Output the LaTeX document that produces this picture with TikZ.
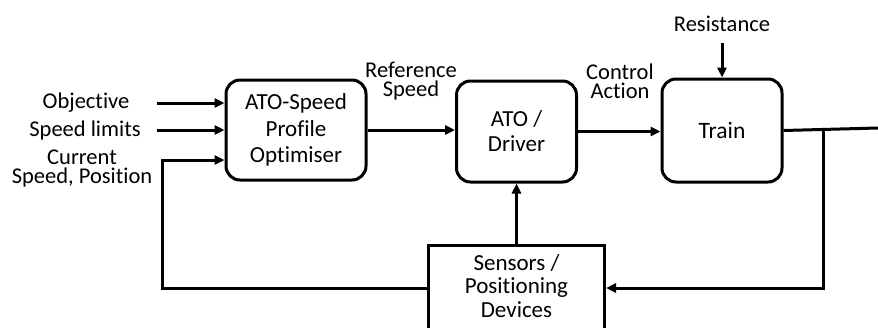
\documentclass[tikz,border=0pt]{standalone}
\usepackage{fontspec}
\setmainfont{Carlito}[Ligatures={NoCommon}]
\usetikzlibrary{arrows.meta,calc}
\begin{document}
\begin{tikzpicture}[x=1pt,y=-1pt,
  line width=3pt,
  rbox/.style={draw, rounded corners=14pt, line width=3pt, align=center, inner sep=0pt},
  sbox/.style={draw, line width=3pt, inner sep=0pt},
  lbl/.style={align=center, inner sep=0pt, font=\fontsize{22.5}{19}\selectfont},
  arr/.style={-{Triangle[length=10pt,width=9pt]}, line width=3pt},
  ln/.style={line width=3pt}
]
\useasboundingbox (0,0) rectangle (878,327);
% boxes
\node[rbox, minimum width=140, minimum height=100, font=\fontsize{23}{26.5}\selectfont] (opt) at (296,130) {ATO-Speed\\Profile\\Optimiser};
\node[rbox, minimum width=120, minimum height=101, font=\fontsize{23}{25}\selectfont] (drv) at (516.5,131.5) {ATO /\\Driver};
\node[rbox, minimum width=120, minimum height=103, font=\fontsize{23.5}{26.5}\selectfont] (trn) at (722,130.5) {Train};
\node[sbox, minimum width=176, minimum height=95] (sens) at (516.5,292.5) {};
\node[lbl, font=\fontsize{23}{23.5}\selectfont] (senstxt) at (516.5,286) {Sensors /\\Positioning\\Devices};
% input labels
\node[lbl] (obj) at (86,103) {Objective};
\node[lbl] (spl) at (85,130) {Speed limits};
\node[lbl] (cur) at (82,169) {Current\\Speed, Position};
\node[lbl] (ref) at (411,81) {Reference\\Speed};
\node[lbl] (ctl) at (620,81) {Control\\Action};
\node[lbl] (res) at (722,24) {Resistance};
% coordinates
\coordinate (objS) at (157,103);
\coordinate (splS) at (157,130);
\coordinate (curC) at (162,160);
\coordinate (fbL) at (162,288);
\coordinate (fbR) at (823,288);
\coordinate (br) at (823,129.5);
\coordinate (outE) at (878,128);
\coordinate (resS) at (722,43);
% connectors
\draw[arr] (objS) -- (objS -| opt.west);
\draw[arr] (splS) -- (splS -| opt.west);
\draw[arr] (fbL -| sens.west) -- (fbL) -- (curC) -- (curC -| opt.west);
\draw[arr] (opt.east) -- (opt.east -| drv.west);
\draw[arr] (drv.east) -- (drv.east -| trn.west);
\draw[arr] (resS) -- (trn.north);
\draw[ln] (trn.east) -- (outE);
\draw[arr] (br) -- (fbR) -- (fbR -| sens.east);
\draw[arr] (sens.north) -- (drv.south);
\end{tikzpicture}
\end{document}
